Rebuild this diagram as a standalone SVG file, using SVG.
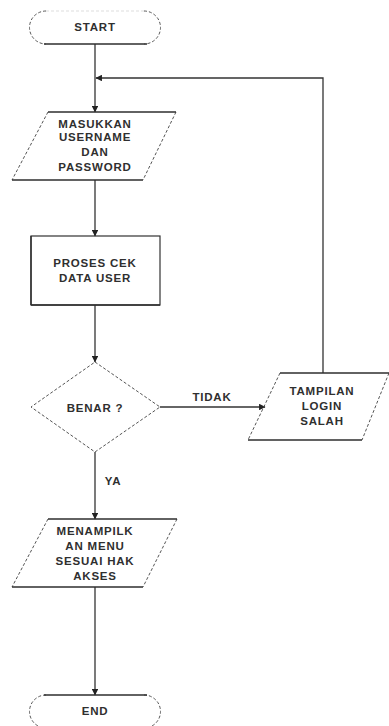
<svg xmlns="http://www.w3.org/2000/svg" width="389" height="726" viewBox="0 0 389 726">
  <style>
    .bg { fill: #ffffff; }
    .lbl { font-family: "Liberation Sans", Arial, sans-serif; font-size: 11.5px; font-weight: bold; fill: #2f2f2f; text-anchor: middle; letter-spacing: 0.8px; }
    .edge { stroke: #2e2e2e; stroke-width: 1.4; fill: none; }
    .side { stroke: #555; stroke-width: 1; fill: none; stroke-dasharray: 3 2; }
    .solid { stroke: #333; stroke-width: 1.2; fill: none; }
    .wire { stroke: #333; stroke-width: 1.3; fill: none; }
  </style>
  <defs>
    <marker id="arrow" viewBox="0 0 6 6" refX="5.5" refY="3" markerWidth="5" markerHeight="5" orient="auto">
      <path d="M0,0 L6,3 L0,6 z" fill="#222"/>
    </marker>
  </defs>
  <rect class="bg" x="0" y="0" width="389" height="726"/>

  <g id="connectors">
    <line class="wire" x1="95" y1="44" x2="95" y2="112" marker-end="url(#arrow)"/>
    <polyline class="wire" points="323,373 323,78 96,78" marker-end="url(#arrow)"/>
    <line class="wire" x1="95" y1="180" x2="95" y2="236" marker-end="url(#arrow)"/>
    <line class="wire" x1="95" y1="305" x2="95" y2="362" marker-end="url(#arrow)"/>
    <line class="wire" x1="160" y1="407" x2="265" y2="407" marker-end="url(#arrow)"/>
    <line class="wire" x1="95" y1="452" x2="95" y2="519" marker-end="url(#arrow)"/>
    <line class="wire" x1="95" y1="587" x2="95" y2="695" marker-end="url(#arrow)"/>
    <text class="lbl" x="212" y="401">TIDAK</text>
    <text class="lbl" x="113" y="485">YA</text>
  </g>

  <g id="start">
    <path class="side" d="M46,11 A16.5,16.5 0 0 0 46,44"/>
    <path class="side" d="M144,11 A16.5,16.5 0 0 1 144,44"/>
    <line class="side" x1="46" y1="11" x2="144" y2="11" stroke-opacity="0.2"/>
    <line class="edge" x1="44" y1="44" x2="147" y2="44"/>
    <text class="lbl" x="95" y="31">START</text>
  </g>

  <g id="input-login">
    <line class="side" x1="48" y1="112" x2="12" y2="180"/>
    <line class="side" x1="176" y1="112" x2="143" y2="180"/>
    <line class="edge" x1="48" y1="112" x2="176" y2="112"/>
    <line class="edge" x1="12" y1="180" x2="143" y2="180"/>
    <text class="lbl" x="95" y="128">MASUKKAN</text>
    <text class="lbl" x="95" y="141">USERNAME</text>
    <text class="lbl" x="95" y="156">DAN</text>
    <text class="lbl" x="95" y="171">PASSWORD</text>
  </g>

  <g id="check-user">
    <rect class="solid" x="31" y="236" width="129" height="69"/>
    <line class="edge" x1="31" y1="236" x2="31" y2="305"/>
    <line class="edge" x1="31" y1="305" x2="160" y2="305"/>
    <text class="lbl" x="95" y="267">PROSES CEK</text>
    <text class="lbl" x="95" y="282">DATA USER</text>
  </g>

  <g id="decision">
    <polygon class="side" points="95,362 160,407 95,452 31,407"/>
    <text class="lbl" x="95" y="412">BENAR ?</text>
  </g>

  <g id="login-failed">
    <line class="side" x1="280" y1="373" x2="248" y2="440"/>
    <line class="side" x1="389" y1="373" x2="362" y2="440"/>
    <line class="edge" x1="280" y1="373" x2="389" y2="373"/>
    <line class="edge" x1="248" y1="440" x2="362" y2="440"/>
    <text class="lbl" x="322" y="395">TAMPILAN</text>
    <text class="lbl" x="322" y="410">LOGIN</text>
    <text class="lbl" x="322" y="425">SALAH</text>
  </g>

  <g id="show-menu">
    <line class="side" x1="48" y1="519" x2="12" y2="587"/>
    <line class="side" x1="177" y1="519" x2="143" y2="587"/>
    <line class="edge" x1="48" y1="519" x2="177" y2="519"/>
    <line class="edge" x1="12" y1="587" x2="143" y2="587"/>
    <text class="lbl" x="95" y="535">MENAMPILK</text>
    <text class="lbl" x="95" y="550">AN MENU</text>
    <text class="lbl" x="95" y="565">SESUAI HAK</text>
    <text class="lbl" x="95" y="580">AKSES</text>
  </g>

  <g id="end">
    <path class="side" d="M46,695 A16.5,16.5 0 0 0 46,728"/>
    <path class="side" d="M144,695 A16.5,16.5 0 0 1 144,728"/>
    <line class="edge" x1="44" y1="695" x2="147" y2="695"/>
    <text class="lbl" x="95" y="715">END</text>
  </g>
</svg>
